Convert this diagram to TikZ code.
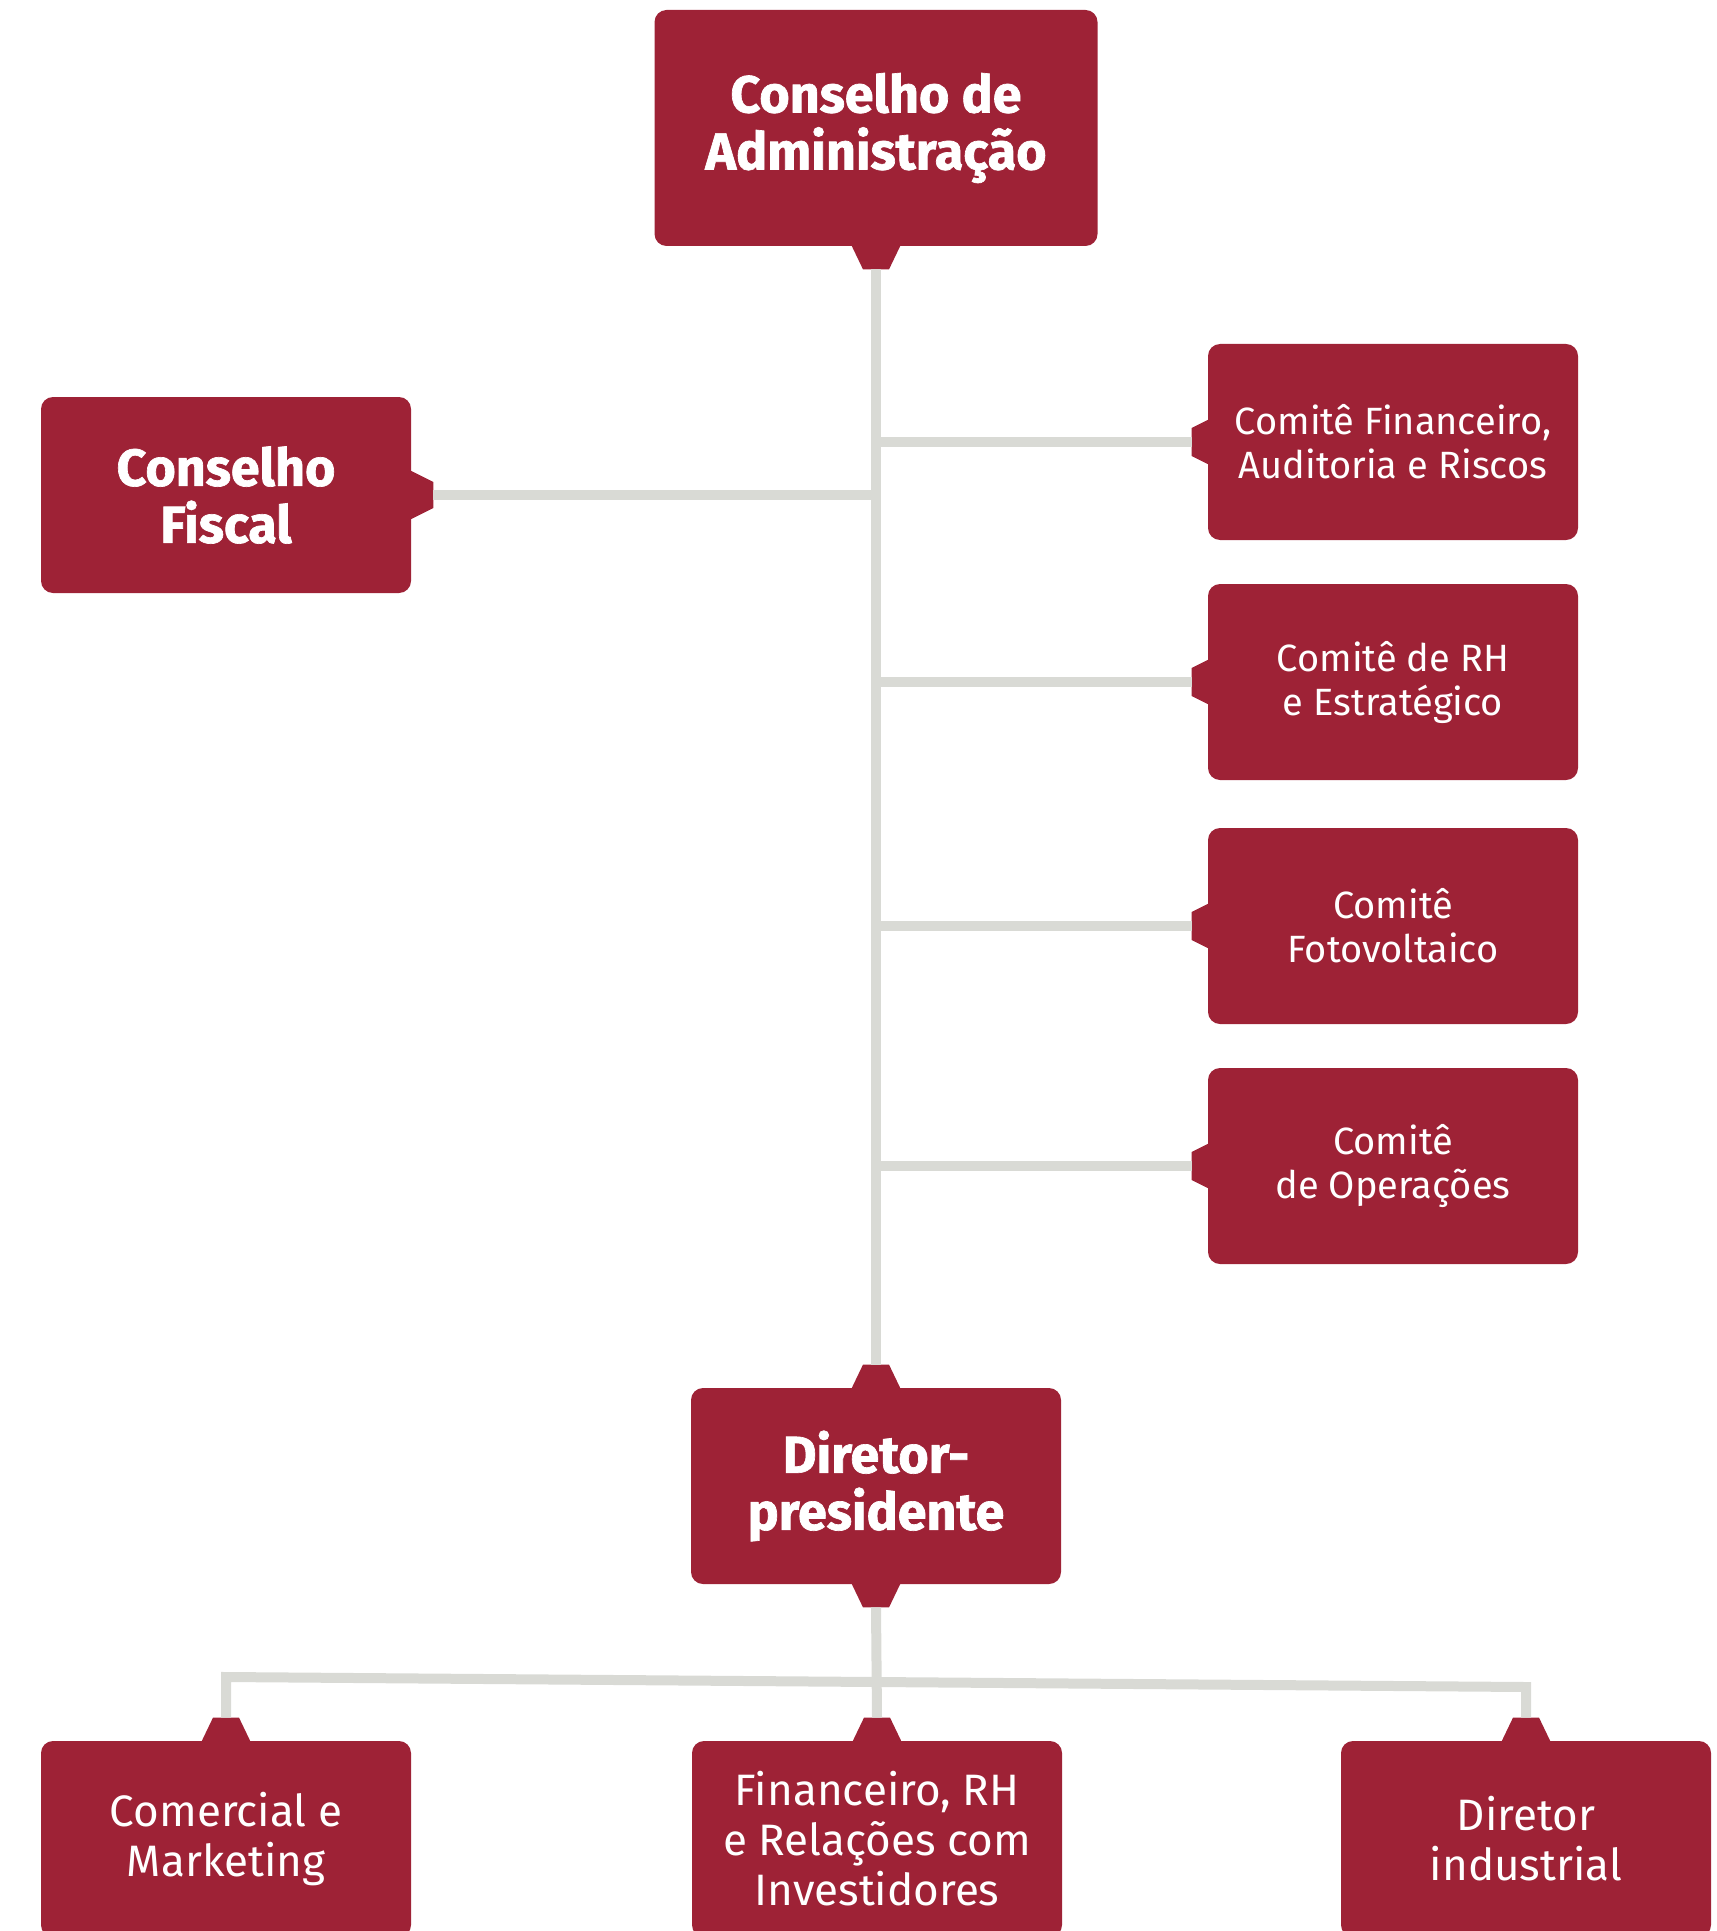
\documentclass[tikz,border=0pt]{standalone}
\usepackage{fontspec}
\setmainfont{Fira Sans}
\newfontfamily\headfont{Fira Sans}[BoldFeatures={FakeBold=1.3}]
\usetikzlibrary{calc}
\definecolor{boxred}{RGB}{158,34,54}
\definecolor{linegray}{RGB}{217,218,213}
\tikzset{
	box/.style={fill=boxred, rounded corners=6pt, text=white, align=center, inner sep=0pt, minimum width=185pt, minimum height=98pt},
	head/.style={box, font=\headfont\fontsize{26}{28.5}\selectfont\bfseries},
	comite/.style={box, font=\fontsize{19}{22}\selectfont},
	area/.style={box, font=\fontsize{22}{25}\selectfont},
	link/.style={draw=linegray, line width=5pt},
}
\def\notchdown(#1){\fill[boxred] ($(#1.south)+(-25,-2)$) -- ++(12,25) -- ++(26,0) -- ++(12,-25) -- cycle; \coordinate (#1-down) at ($(#1.south)+(0,23)$);}
\def\notchup(#1){\fill[boxred] ($(#1.north)+(-25,2)$) -- ++(12,-25) -- ++(26,0) -- ++(12,25) -- cycle; \coordinate (#1-up) at ($(#1.north)+(0,-23)$);}
\def\notchright(#1){\fill[boxred] ($(#1.east)+(-2,-25)$) -- ++(24,12) -- ++(0,26) -- ++(-24,12) -- cycle; \coordinate (#1-right) at ($(#1.east)+(22,0)$);}
\def\notchleft(#1){\fill[boxred] ($(#1.west)+(2,-23)$) -- ++(-18,9) -- ++(0,28) -- ++(18,9) -- cycle; \coordinate (#1-left) at ($(#1.west)+(-16,0)$);}

\begin{document}
\begin{tikzpicture}[x=0.5pt,y=-0.5pt]
			%%%%% START %%%%%
			\useasboundingbox (0,0) rectangle (1717,1931);
			\clip (0,0) rectangle (1717,1931);
			
			\node[head, minimum width=221.5pt, minimum height=118pt] (ca) at (876,128) {Conselho de\\Administração};
			\notchdown(ca)
			
			\node[head] (cf) at (226,495) {Conselho\\Fiscal};
			\notchright(cf)
			
			\node[comite] (cfar) at (1393,442) {Comitê Financeiro,\\Auditoria e Riscos};
			\node[comite] (crh) at (1393,682) {Comitê de RH\\e Estratégico};
			\node[comite] (cfv) at (1393,926) {Comitê\\Fotovoltaico};
			\node[comite] (cop) at (1393,1166) {Comitê\\de Operações};
			\foreach \c in {cfar,crh,cfv,cop}
				\notchleft(\c);
			
			\node[head] (dp) at (876,1486) {Diretor-\\presidente};
			\notchup(dp)
			\notchdown(dp)
			
			\node[area] (cm) at (226,1839) {Comercial e\\Marketing};
			\node[area] (fin) at (877,1839) {Financeiro, RH\\e Relações com\\Investidores};
			\node[area] (di) at (1526,1839) {Diretor\\industrial};
			\foreach \c in {cm,fin,di}
				\notchup(\c);
			
			% connectors
			\draw[link] (ca-down) -- (dp-up);
			\draw[link] (cf-right) -- (cf-right -| ca-down);
			\foreach \c in {cfar,crh,cfv,cop}
				\draw[link] (\c-left) -- (\c-left -| ca-down);
			
			\coordinate (barl) at (226,1677);
			\coordinate (barr) at (1526,1687);
			\draw[link] (dp-down) -- (fin-up);
			\draw[link] (cm-up) -- (cm-up |- barl) -- (di-up |- barr) -- (di-up);
			
			%%%%% END %%%%%
\end{tikzpicture}
\end{document}
